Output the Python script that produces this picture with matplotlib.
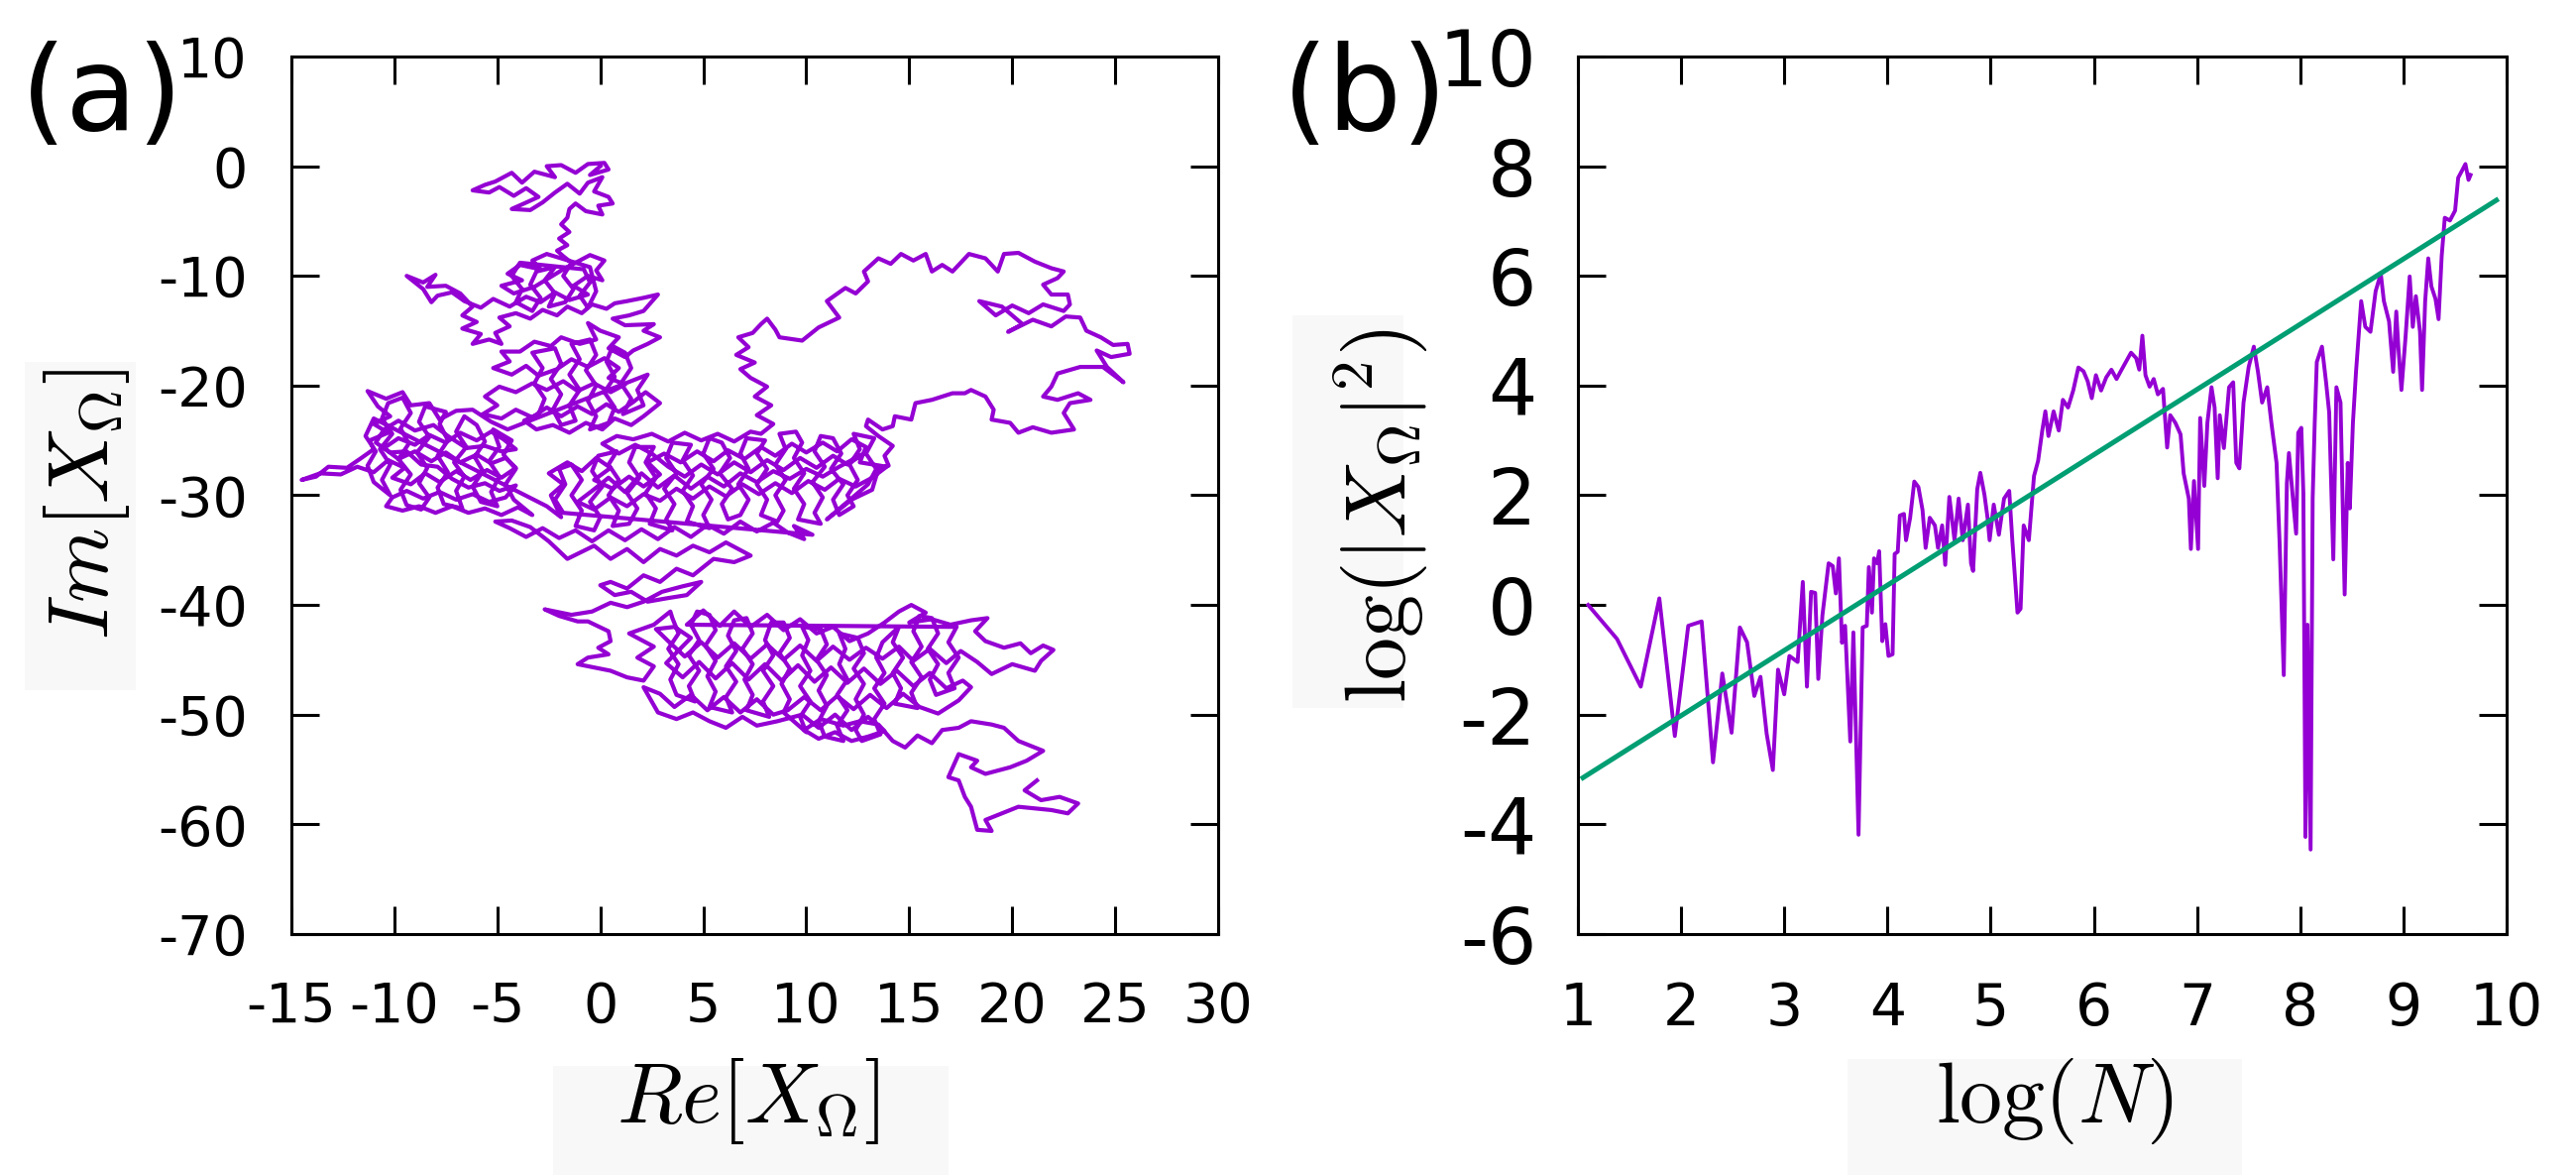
import matplotlib
matplotlib.use("Agg")
import matplotlib.pyplot as plt
from matplotlib.patches import Rectangle

plt.rcParams['mathtext.fontset'] = 'cm'
plt.rcParams['font.family'] = 'DejaVu Sans'
plt.rcParams['axes.unicode_minus'] = False

walk_top = [(0.0, 0.0), (-0.5, -0.8), (0.4, -0.3), (0.2, 0.3), (-0.6, 0.2), (-1.2, -0.6),
            (-1.9, 0.1), (-2.6, 0.0), (-2.2, -1.0), (-3.2, -0.5), (-3.8, -1.5), (-4.3, -0.6),
            (-5.1, -1.4), (-5.6, -1.7), (-6.2, -2.2), (-5.4, -2.4), (-4.9, -1.9), (-4.2, -2.7),
            (-3.6, -2.0), (-3.0, -2.8), (-3.7, -3.4), (-4.3, -3.9), (-3.4, -4.0), (-2.8, -3.3),
            (-2.2, -2.4), (-1.6, -1.6), (-1.0, -2.5), (-0.6, -1.5), (0.1, -1.0), (-0.3, -2.3),
            (0.4, -2.8), (0.6, -3.4), (-0.1, -3.6), (0.1, -4.4), (-0.7, -4.1), (-1.2, -3.4),
            (-1.5, -3.9), (-1.6, -4.7), (-1.9, -5.3), (-1.5, -6.0), (-2.0, -6.6), (-1.6, -7.2),
            (-2.1, -7.7), (-1.8, -8.2)]

fill_upper = [(-1.4, -8.8), (-1.8, -10.0), (-1.3, -11.2), (-1.7, -12.4), (-2.5, -12.8), (-2.2, -11.6),
              (-2.7, -10.4), (-2.2, -9.2), (-3.1, -9.6), (-3.4, -10.8), (-2.9, -12.0), (-3.3, -13.2),
              (-4.1, -12.4), (-3.8, -11.2), (-4.3, -10.0), (-3.9, -8.8), (-0.8, -9.4), (-0.5, -10.6),
              (-1.0, -11.8), (-0.6, -12.9), (-0.2, -11.4), (-0.5, -9.2)]

walk_upper = [(-2.6, -8.0), (-3.3, -8.6), (-2.9, -9.4), (-3.9, -9.0), (-4.5, -9.8), (-3.8, -10.4),
              (-4.8, -10.9), (-4.2, -11.6), (-3.2, -11.0), (-2.5, -10.2), (-1.8, -9.4), (-1.0, -8.6),
              (-0.5, -8.1), (0.2, -8.6), (-0.2, -9.5), (0.1, -10.4), (-0.6, -10.0), (-1.3, -10.9),
              (-0.6, -11.7), (-1.5, -12.2), (-2.2, -11.5), (-2.9, -12.4), (-3.6, -11.9), (-4.4, -12.8),
              (-5.2, -12.1), (-5.8, -12.9), (-6.6, -12.3), (-7.2, -11.5), (-7.9, -11.8), (-8.2, -12.4),
              (-8.6, -11.2), (-9.4, -10.0), (-8.6, -10.6), (-8.0, -9.9), (-8.4, -11.0), (-7.5, -10.9),
              (-6.8, -11.6), (-6.2, -12.8), (-6.7, -13.6), (-6.0, -14.2), (-6.7, -14.8), (-5.8, -15.3),
              (-6.2, -16.2), (-5.4, -15.8), (-4.8, -16.2), (-5.1, -15.2), (-4.4, -14.6), (-4.9, -13.8),
              (-4.1, -13.4), (-3.4, -13.9), (-2.8, -13.1), (-2.1, -13.6), (-1.6, -12.8), (-0.9, -13.4),
              (-0.4, -12.6), (0.3, -13.0), (0.7, -12.5), (1.3, -12.3), (2.1, -12.0), (2.8, -11.7),
              (2.1, -13.2), (1.4, -13.6), (0.6, -13.9), (1.2, -14.5), (2.6, -14.4), (2.1, -15.0),
              (2.9, -15.6), (2.3, -16.2), (1.6, -16.8), (1.2, -17.4), (0.4, -16.6), (0.9, -15.6),
              (0.0, -15.0), (-0.6, -14.3), (-0.2, -15.8)]

walk_mid = [(-1.0, -16.2), (-1.9, -15.6), (-2.4, -16.4), (-3.2, -16.0), (-3.9, -16.9), (-4.8, -16.9),
            (-4.4, -17.8), (-5.2, -18.4), (-4.3, -19.0), (-3.6, -18.2), (-3.0, -19.1), (-2.1, -18.5),
            (-1.4, -17.6), (-0.6, -18.3), (0.2, -17.5), (0.9, -18.4), (0.4, -19.3), (1.2, -19.9),
            (0.5, -20.6), (-0.3, -19.8), (-1.1, -20.5), (-1.8, -19.6), (-2.6, -20.4), (-3.3, -19.8),
            (-4.1, -20.6), (-4.9, -20.1), (-5.6, -21.0), (-5.0, -21.8), (-5.7, -22.6), (-4.8, -23.0),
            (-4.1, -22.2), (-3.3, -22.9), (-2.6, -22.0), (-1.9, -22.8), (-1.1, -21.9), (-0.4, -22.6),
            (0.3, -21.7), (0.9, -22.4), (1.6, -21.5), (2.2, -20.6), (2.9, -21.6), (2.1, -22.8),
            (1.5, -23.6), (0.7, -23.0), (0.1, -24.0), (-0.7, -23.4), (-1.5, -24.3), (-2.3, -23.6),
            (-3.1, -24.0), (-3.7, -23.2)]

fill_mid = [(-3.0, -22.6), (-2.7, -21.2), (-3.2, -19.8), (-2.8, -18.4), (-3.3, -17.0), (-2.2, -16.6),
            (-1.9, -18.0), (-2.4, -19.4), (-1.9, -20.8), (-2.3, -22.2), (-1.9, -23.6), (-1.2, -23.2),
            (-1.5, -21.8), (-1.0, -20.4), (-1.5, -19.0), (-1.0, -17.6), (-1.4, -16.2), (-0.5, -15.8),
            (-0.2, -17.2), (-0.7, -18.6), (-0.2, -20.0), (-0.6, -21.4), (-0.2, -22.8), (-0.5, -24.0),
            (0.4, -23.4), (0.7, -22.0), (0.2, -20.6), (0.7, -19.2), (0.3, -17.8), (0.6, -16.4),
            (1.2, -17.0), (1.5, -18.4), (1.0, -19.8), (1.5, -21.2), (1.1, -22.6), (2.1, -21.8),
            (1.8, -20.4), (2.3, -19.0)]

walk_left = [(-4.5, -24.0), (-5.3, -23.3), (-6.2, -22.2), (-7.0, -22.3), (-7.8, -23.1), (-8.3, -21.6),
             (-9.2, -21.8), (-9.6, -20.6), (-10.4, -21.2), (-11.3, -20.5), (-10.8, -21.9), (-10.2, -22.8),
             (-11.0, -23.5), (-10.3, -24.3), (-11.2, -25.0), (-11.0, -25.8), (-11.6, -26.6), (-12.3, -27.5),
             (-13.2, -27.4), (-13.8, -28.3), (-14.5, -28.6), (-13.6, -28.0), (-12.6, -28.1), (-11.8, -27.4),
             (-11.0, -27.9), (-10.3, -26.8), (-9.5, -27.5), (-10.1, -28.4), (-9.2, -29.0), (-8.5, -28.0),
             (-7.8, -28.8), (-7.0, -27.8), (-6.3, -28.6), (-5.5, -27.7), (-4.8, -28.4), (-4.1, -27.5),
             (-4.6, -26.6), (-5.3, -27.1), (-6.0, -26.3), (-6.8, -27.0), (-7.5, -26.1), (-8.2, -26.9),
             (-9.0, -26.0), (-9.8, -26.7), (-10.5, -25.7), (-9.8, -24.8), (-9.0, -25.4), (-8.3, -24.5),
             (-7.5, -25.2), (-6.8, -24.3), (-6.0, -25.0), (-5.3, -24.2), (-4.7, -24.9), (-4.1, -25.8),
             (-4.8, -26.0), (-5.6, -25.5), (-6.5, -25.7), (-7.4, -24.6), (-8.1, -23.6), (-9.0, -24.1),
             (-9.8, -23.2), (-10.5, -24.0), (-10.9, -25.2), (-10.2, -26.1), (-9.4, -26.0), (-8.7, -27.2),
             (-7.9, -27.4), (-7.2, -28.5), (-6.4, -29.3), (-5.6, -28.9), (-4.9, -29.6), (-4.1, -29.1),
             (-4.6, -30.2), (-5.4, -30.6), (-6.2, -29.9), (-7.0, -30.4), (-7.8, -29.7), (-8.6, -30.3),
             (-9.4, -29.6), (-10.1, -30.2), (-10.4, -31.0), (-9.6, -31.4), (-8.8, -31.0), (-8.0, -31.6),
             (-7.2, -31.0), (-6.4, -31.6), (-5.6, -31.2), (-4.8, -31.8), (-4.0, -31.1), (-3.3, -31.8)]

fill_left = [(-4.2, -30.4), (-4.6, -29.0), (-4.1, -27.6), (-4.7, -26.3), (-4.3, -25.0), (-5.2, -24.0),
             (-4.9, -25.6), (-5.4, -26.9), (-4.9, -28.3), (-5.3, -29.7), (-5.0, -31.0), (-5.8, -30.6),
             (-6.2, -29.2), (-5.7, -27.8), (-6.1, -26.5), (-5.6, -25.1), (-6.0, -23.6), (-6.6, -22.8),
             (-7.0, -24.2), (-6.5, -25.6), (-7.1, -27.0), (-6.6, -28.3), (-7.0, -29.6), (-6.7, -31.2),
             (-7.6, -30.8), (-7.9, -29.3), (-7.4, -27.9), (-7.9, -26.4), (-7.4, -25.0), (-7.8, -23.5),
             (-7.5, -22.4), (-8.5, -21.9), (-8.8, -23.3), (-8.3, -24.7), (-8.9, -26.1), (-8.4, -27.5),
             (-8.8, -28.9), (-8.3, -30.2), (-8.7, -31.3), (-9.4, -30.9), (-9.7, -29.5), (-9.2, -28.1),
             (-9.8, -26.7), (-9.3, -25.3), (-9.7, -23.9), (-9.2, -22.5), (-9.6, -21.1), (-10.3, -21.6),
             (-10.6, -23.0), (-10.1, -24.4), (-10.7, -25.8), (-10.2, -27.2), (-10.6, -28.6), (-10.2, -30.0),
             (-11.0, -28.8), (-11.3, -27.3), (-10.9, -26.0), (-11.4, -24.6), (-11.0, -23.0)]

walk_band = [(-2.6, -31.0), (-1.9, -32.0), (-2.4, -30.0), (-1.8, -29.0), (-2.5, -28.0), (-1.6, -27.0),
             (-0.9, -27.8), (-0.2, -26.6), (0.5, -27.5), (-0.3, -28.6), (0.6, -29.4), (1.4, -28.3),
             (2.1, -29.2), (2.9, -28.1), (2.3, -27.0), (3.1, -26.2), (3.9, -27.0), (4.7, -26.0),
             (5.5, -26.9), (6.2, -25.9), (7.0, -26.7), (7.8, -25.6), (8.5, -26.4), (9.3, -25.3),
             (10.0, -26.1), (10.8, -25.2), (11.5, -26.0), (12.2, -24.9), (12.9, -25.6), (12.6, -27.0),
             (13.9, -27.4), (13.2, -28.4), (12.4, -29.2), (11.6, -28.5), (10.9, -29.5), (10.1, -28.7),
             (9.3, -29.8), (8.5, -28.9), (7.7, -29.9), (6.9, -29.0), (6.1, -30.1), (5.3, -29.2),
             (4.5, -30.3), (3.7, -29.4), (2.9, -30.5), (2.1, -29.9), (1.3, -31.0), (0.5, -30.2),
             (-0.3, -31.3), (-1.1, -30.6), (-0.4, -29.6), (0.4, -28.4), (1.2, -29.7), (2.0, -28.0),
             (2.8, -29.3), (3.6, -28.2), (4.4, -29.4), (5.2, -28.3), (6.0, -29.2), (6.8, -28.0),
             (7.6, -28.8), (8.4, -27.8), (9.2, -28.5), (10.0, -27.6), (10.8, -28.3), (11.6, -27.4),
             (12.8, -26.2), (12.0, -27.2), (11.3, -26.4), (10.5, -27.5), (9.7, -26.6), (8.9, -27.7),
             (8.1, -26.8), (7.3, -27.9), (6.5, -27.0), (5.7, -28.1), (4.9, -27.2), (4.1, -28.3),
             (3.3, -27.4), (2.5, -26.2), (1.7, -25.4), (0.9, -26.2), (0.1, -25.3), (0.8, -24.6),
             (1.6, -24.9), (2.5, -24.4), (3.3, -25.1), (4.1, -24.3), (4.9, -25.0), (5.7, -24.4),
             (6.5, -25.1), (7.3, -24.2), (7.8, -24.4)]

walk_loop = [(8.4, -23.5), (7.6, -22.7), (8.3, -21.8), (7.5, -21.0), (8.1, -20.1), (7.3, -19.3),
             (6.8, -18.5), (7.5, -17.9), (6.6, -17.2), (7.2, -16.5), (6.7, -15.6), (7.4, -15.2),
             (7.8, -14.4), (8.1, -13.9), (8.5, -14.9), (8.7, -15.6), (9.8, -15.9), (10.6, -14.7),
             (11.6, -13.8), (11.0, -12.3), (11.9, -11.1), (12.4, -11.6), (13.0, -10.5), (12.8, -9.6),
             (13.5, -8.4), (14.1, -8.9), (14.6, -8.0), (15.2, -8.6), (15.8, -8.0), (16.1, -9.6),
             (16.6, -9.0), (17.1, -9.6), (17.9, -8.0), (18.7, -8.4), (19.3, -9.6), (19.6, -8.0),
             (20.3, -7.9), (21.1, -8.7), (21.9, -9.3), (22.5, -9.6), (22.2, -10.2), (21.5, -10.8),
             (21.9, -11.7), (22.7, -11.7), (22.8, -12.6), (22.5, -13.2), (21.5, -12.6), (20.8, -13.4),
             (20.0, -12.7), (19.2, -13.6), (18.4, -12.3), (19.5, -12.8), (20.5, -14.4), (19.8, -15.1),
             (21.0, -14.0), (21.9, -14.6), (22.6, -13.7), (23.3, -13.8), (23.6, -15.0), (24.3, -15.6),
             (24.9, -16.3), (25.6, -16.2), (25.7, -17.1), (24.8, -17.4), (24.1, -16.8), (24.6, -18.3),
             (25.4, -19.7), (24.4, -18.3), (23.3, -18.3), (22.2, -18.9), (21.9, -20.1), (21.5, -21.0),
             (22.2, -21.3), (23.2, -20.7), (23.8, -21.3), (22.8, -21.6), (22.5, -22.5), (22.8, -23.4),
             (23.0, -24.0), (21.9, -24.3), (21.0, -23.8), (20.3, -24.3), (19.9, -23.4), (19.0, -23.1),
             (19.1, -22.2), (18.7, -21.0), (18.0, -20.4), (17.7, -20.7), (17.1, -20.7), (16.1, -21.3),
             (15.3, -21.6), (15.1, -23.1), (14.3, -22.8), (14.2, -23.7), (13.7, -24.0), (13.0, -23.1),
             (12.9, -23.7), (13.5, -24.6), (14.2, -25.5), (13.8, -26.4), (14.0, -27.3), (13.5, -27.6),
             (13.2, -29.5), (12.2, -30.4), (11.0, -32.2)]

fill_band = [(13.0, -29.0), (13.4, -27.6), (12.9, -26.2), (13.3, -24.8), (12.3, -24.4), (12.6, -25.8),
             (12.1, -27.2), (12.5, -28.6), (12.0, -30.0), (12.3, -31.0), (11.6, -31.8), (11.3, -30.4),
             (11.8, -29.0), (11.2, -27.6), (11.7, -26.2), (11.3, -24.8), (10.7, -24.6), (10.4, -26.0),
             (10.9, -27.4), (10.3, -28.8), (10.8, -30.2), (10.4, -31.6), (10.7, -32.6), (9.6, -32.2),
             (9.9, -30.8), (9.4, -29.4), (9.9, -28.0), (9.4, -26.6), (9.8, -25.2), (9.5, -24.2),
             (8.7, -24.4), (9.0, -25.8), (8.5, -27.2), (9.0, -28.6), (8.5, -30.0), (8.9, -31.4),
             (8.6, -32.4), (7.8, -31.8), (8.1, -30.4), (7.6, -29.0), (8.1, -27.6), (7.6, -26.2),
             (8.0, -25.0), (7.1, -24.8), (6.8, -26.2), (7.2, -27.6), (6.7, -29.0), (7.2, -30.4),
             (6.8, -31.8), (6.2, -32.2), (5.9, -30.8), (6.4, -29.4), (5.8, -28.0), (6.3, -26.6),
             (5.9, -25.2), (5.3, -24.8), (5.0, -26.2), (5.5, -27.6), (4.9, -29.0), (5.4, -30.4),
             (5.0, -31.8), (5.3, -33.0), (4.2, -32.4), (4.5, -31.0), (4.0, -29.6), (4.5, -28.2),
             (4.0, -26.8), (4.4, -25.4), (3.5, -25.2), (3.2, -26.6), (3.7, -28.0), (3.1, -29.4),
             (3.6, -30.8), (3.2, -32.2), (3.5, -33.2), (2.4, -32.6), (2.7, -31.2), (2.2, -29.8),
             (2.7, -28.4), (2.2, -27.0), (2.6, -25.6), (1.7, -25.6), (1.4, -27.0), (1.9, -28.4),
             (1.3, -29.8), (1.8, -31.2), (1.4, -32.6), (0.6, -32.8), (0.9, -31.4), (0.4, -30.0),
             (0.9, -28.6), (0.4, -27.2), (0.8, -26.0), (-0.1, -26.4), (-0.4, -27.8), (0.1, -29.2),
             (-0.5, -30.6), (0.0, -32.0), (-0.3, -33.2), (-1.2, -32.8), (-0.9, -31.4), (-1.4, -30.0),
             (-0.9, -28.6), (-1.4, -27.2), (-2.0, -27.6), (-1.7, -29.0), (-2.2, -30.4), (-1.8, -31.6)]

walk_down = [(10.3, -33.6), (9.4, -32.8), (9.9, -34.0), (9.1, -33.4), (8.4, -32.5), (7.6, -33.3),
             (6.8, -32.4), (6.0, -33.5), (5.2, -32.7), (4.4, -33.8), (3.6, -32.9), (2.8, -34.0),
             (2.0, -33.1), (1.2, -34.1), (0.4, -33.2), (-0.4, -34.2), (-1.2, -33.2), (-2.0, -33.9),
             (-2.8, -33.0), (-3.6, -33.8), (-4.4, -33.0), (-5.1, -32.4), (-4.3, -32.3), (-3.4, -32.9),
             (-2.5, -34.2), (-1.6, -35.8), (-0.3, -34.6), (0.5, -35.8), (1.3, -34.9), (2.1, -36.1),
             (2.9, -34.9), (3.7, -35.5), (4.5, -34.6), (5.3, -35.2), (6.1, -34.3), (7.3, -35.5),
             (6.5, -36.1), (5.5, -35.8), (4.5, -37.3), (3.7, -36.7), (2.9, -37.9), (2.1, -37.3),
             (1.3, -38.5), (0.5, -37.9), (0.0, -38.2), (0.7, -39.1), (1.5, -38.8), (2.3, -39.7),
             (3.2, -39.4), (4.2, -39.1), (4.9, -37.9), (4.0, -38.3), (3.0, -38.8), (2.1, -39.7),
             (1.3, -40.2), (0.5, -39.8), (-0.4, -40.6), (-1.4, -40.9), (-2.7, -40.4), (-2.0, -41.0),
             (-1.1, -41.5), (-0.6, -41.5), (0.4, -42.4), (0.5, -43.3), (-0.1, -43.9), (0.4, -44.5),
             (-0.6, -44.8), (-1.1, -45.4), (-0.3, -45.7), (0.5, -46.0), (1.3, -46.6), (2.1, -46.9),
             (2.6, -45.6), (1.8, -44.8), (2.6, -43.8), (1.4, -42.6), (2.6, -41.8), (3.4, -40.6)]

fill_low = [(3.5, -41.2), (3.8, -42.6), (3.3, -44.0), (3.8, -45.4), (3.4, -46.8), (3.7, -48.2),
            (4.6, -48.8), (4.3, -47.4), (4.8, -46.0), (4.3, -44.6), (4.8, -43.2), (4.4, -41.8),
            (4.7, -40.6), (5.3, -40.9), (5.6, -42.3), (5.1, -43.7), (5.6, -45.1), (5.2, -46.5),
            (5.6, -47.9), (5.3, -49.3), (6.4, -49.8), (6.1, -48.4), (6.6, -47.0), (6.1, -45.6),
            (6.6, -44.2), (6.2, -42.8), (6.5, -41.4), (7.1, -41.2), (7.4, -42.6), (6.9, -44.0),
            (7.4, -45.4), (7.0, -46.8), (7.4, -48.2), (7.1, -49.6), (8.2, -50.2), (7.9, -48.8),
            (8.4, -47.4), (7.9, -46.0), (8.4, -44.6), (8.0, -43.2), (8.3, -41.6), (8.9, -41.6),
            (9.2, -43.0), (8.7, -44.4), (9.2, -45.8), (8.8, -47.2), (9.2, -48.6), (8.9, -49.8),
            (10.0, -51.6), (9.7, -50.2), (10.2, -48.8), (9.7, -47.4), (10.2, -46.0), (9.8, -44.6),
            (10.1, -43.2), (9.8, -42.0), (10.7, -42.2), (11.0, -43.6), (10.5, -45.0), (11.0, -46.4),
            (10.6, -47.8), (11.0, -49.2), (10.6, -50.6), (10.9, -52.0), (11.8, -52.4), (11.5, -51.0),
            (12.0, -49.6), (11.5, -48.2), (12.0, -46.8), (11.6, -45.4), (11.9, -44.0), (11.6, -42.6),
            (12.5, -43.0), (12.8, -44.4), (12.3, -45.8), (12.8, -47.2), (12.4, -48.6), (12.8, -50.0),
            (12.4, -51.4), (12.7, -52.4), (13.6, -51.8), (13.3, -50.4), (13.8, -49.0), (13.3, -47.6),
            (13.8, -46.2), (13.4, -44.8), (13.7, -43.4), (14.5, -42.0), (14.2, -43.4), (14.7, -44.8),
            (14.2, -46.2), (14.6, -47.6), (14.3, -49.0), (15.4, -49.4), (15.1, -48.0), (15.6, -46.6),
            (15.1, -45.2), (15.6, -43.8), (15.2, -42.4), (15.5, -41.0), (16.1, -41.2), (16.4, -42.6),
            (15.9, -44.0), (16.4, -45.4), (16.0, -46.8), (16.3, -48.2), (17.2, -47.6), (16.9, -46.2),
            (17.4, -44.8), (16.9, -43.4), (17.3, -42.0)]

walk_low = [(4.2, -41.8), (5.0, -40.5), (5.8, -41.9), (6.5, -40.6), (7.3, -42.0), (8.1, -40.9),
            (8.9, -42.3), (9.7, -41.3), (10.5, -42.6), (11.3, -42.0), (12.1, -43.3), (13.0, -42.6),
            (13.8, -41.6), (14.5, -40.6), (15.1, -40.0), (15.8, -40.7), (15.0, -41.6), (16.1, -41.3),
            (17.0, -41.8), (18.0, -41.4), (18.8, -41.2), (18.2, -42.4), (18.7, -43.3), (19.6, -43.9),
            (20.4, -43.5), (20.9, -44.4), (21.5, -43.7), (22.0, -44.1), (21.4, -45.1), (21.1, -46.0),
            (20.0, -45.4), (19.0, -46.3), (18.3, -45.2), (17.5, -44.2), (16.8, -45.3), (16.0, -44.0),
            (15.2, -45.1), (14.5, -43.8), (13.7, -44.9), (12.9, -43.9), (12.1, -45.0), (11.3, -43.8),
            (10.5, -45.1), (9.7, -43.7), (8.9, -45.0), (8.1, -43.6), (7.3, -44.9), (6.5, -43.5),
            (5.7, -44.8), (4.9, -43.4), (4.1, -44.7), (3.3, -43.3), (2.7, -42.2), (3.6, -42.0),
            (4.4, -43.0), (3.2, -45.3), (4.0, -46.6), (4.8, -45.2), (5.6, -46.7), (6.4, -45.3),
            (7.2, -46.8), (8.0, -45.4), (8.8, -46.9), (9.6, -45.5), (10.4, -47.0), (11.2, -45.7),
            (12.0, -47.1), (12.8, -45.8), (13.6, -47.2), (14.4, -46.0), (15.2, -47.4), (16.0, -46.2),
            (16.8, -47.6), (17.6, -46.9), (18.0, -47.5), (17.4, -48.7), (16.4, -49.9), (15.5, -49.3),
            (14.7, -48.1), (13.9, -49.4), (13.1, -48.2), (12.3, -49.5), (11.5, -48.3), (10.7, -49.6),
            (9.9, -48.4), (9.1, -49.6), (8.4, -50.0), (7.6, -48.6), (6.8, -49.8), (6.0, -48.4),
            (5.2, -49.6), (4.4, -48.2), (3.6, -49.3), (2.9, -48.1), (2.1, -47.5), (2.8, -49.8),
            (3.7, -50.4), (4.5, -49.8), (5.3, -50.6), (6.1, -51.2), (6.9, -50.2), (7.6, -51.0),
            (8.6, -50.6), (9.8, -50.0), (10.6, -51.2), (11.4, -50.0), (12.2, -51.4), (13.0, -50.2),
            (13.8, -51.5), (13.0, -52.0), (12.2, -52.4), (11.4, -51.6), (10.6, -52.2), (9.9, -51.4),
            (10.7, -50.4), (11.8, -51.0), (12.6, -50.6), (13.5, -50.9), (14.2, -52.4), (14.8, -53.0),
            (15.4, -51.9), (16.1, -52.6), (16.6, -51.4), (17.4, -51.2)]

walk_tail = [(18.0, -50.6), (19.0, -50.9), (19.6, -51.2), (20.3, -52.4), (21.5, -53.3), (20.7, -54.2),
             (19.9, -54.8), (18.7, -55.4), (18.0, -54.8), (18.3, -54.2), (17.4, -53.6), (16.9, -55.7),
             (17.4, -56.0), (17.7, -57.5), (18.0, -58.4), (18.3, -60.5), (19.0, -60.6), (18.7, -59.6),
             (19.5, -59.0), (20.3, -58.4), (21.9, -58.7), (22.7, -59.0), (23.2, -58.1), (22.3, -57.5),
             (21.4, -57.8), (20.6, -56.9), (21.2, -56.0)]

# (b) log|X_Omega|^2 against log N, and the fitted line
log_n = [1.10, 1.38, 1.61, 1.79, 1.94, 2.07, 2.20, 2.31, 2.40, 2.49, 2.57, 2.64, 2.71, 2.77,
         2.83, 2.89, 2.94, 3.00, 3.05, 3.13, 3.18, 3.22, 3.26, 3.30, 3.33, 3.37, 3.43, 3.47,
         3.50, 3.53, 3.56, 3.59, 3.64, 3.67, 3.72, 3.76, 3.80, 3.82, 3.85, 3.87, 3.90, 3.92,
         3.95, 3.98, 4.01, 4.05, 4.07, 4.10, 4.12, 4.16, 4.18, 4.22, 4.26, 4.30, 4.34, 4.37,
         4.41, 4.46, 4.49, 4.53, 4.56, 4.60, 4.65, 4.69, 4.73, 4.78, 4.81, 4.83, 4.87, 4.90,
         4.94, 4.97, 4.99, 5.03, 5.08, 5.13, 5.18, 5.21, 5.26, 5.29, 5.32, 5.37, 5.42, 5.46,
         5.50, 5.53, 5.56, 5.61, 5.66, 5.70, 5.75, 5.80, 5.85, 5.90, 5.94, 5.98, 6.02, 6.07,
         6.12, 6.17, 6.22, 6.26, 6.31, 6.36, 6.41, 6.44, 6.47, 6.50, 6.54, 6.58, 6.62, 6.67,
         6.71, 6.74, 6.79, 6.84, 6.87, 6.92, 6.94, 6.97, 7.01, 7.03, 7.07, 7.10, 7.14, 7.17,
         7.20, 7.22, 7.26, 7.31, 7.35, 7.38, 7.41, 7.45, 7.50, 7.55, 7.59, 7.63, 7.68, 7.72,
         7.77, 7.80, 7.82, 7.84, 7.87, 7.89, 7.92, 7.96, 7.98, 8.01, 8.03, 8.05, 8.07, 8.10,
         8.12, 8.14, 8.16, 8.21, 8.25, 8.28, 8.32, 8.35, 8.39, 8.43, 8.46, 8.48, 8.51, 8.54,
         8.59, 8.63, 8.68, 8.73, 8.78, 8.81, 8.86, 8.90, 8.93, 8.95, 8.98, 9.02, 9.06, 9.09,
         9.12, 9.16, 9.18, 9.21, 9.24, 9.27, 9.31, 9.34, 9.37, 9.40, 9.45, 9.50, 9.53, 9.57,
         9.60, 9.63, 9.65]
log_x2 = [0.00, -0.62, -1.49, 0.12, -2.39, -0.38, -0.30, -2.87, -1.25, -2.33, -0.41, -0.68, -1.66, -1.31,
          -2.35, -3.01, -1.18, -1.63, -0.93, -1.04, 0.42, -1.49, 0.24, 0.22, -1.35, -0.19, 0.76, 0.71,
          0.21, 0.85, -0.69, -0.38, -2.49, -0.50, -4.19, -0.41, -0.38, 0.69, -0.14, 0.85, 0.76, 0.98,
          -0.66, -0.35, -0.93, -0.90, 0.93, 0.97, 1.63, 1.66, 1.18, 1.59, 2.25, 2.15, 1.73, 1.04,
          1.59, 1.45, 1.04, 1.45, 0.73, 1.97, 1.18, 1.94, 1.18, 1.83, 0.76, 0.62, 2.11, 2.41,
          2.01, 1.59, 1.18, 1.83, 1.28, 1.94, 2.08, 1.18, -0.14, -0.07, 1.45, 1.18, 2.35, 2.63,
          3.18, 3.53, 3.08, 3.53, 3.18, 3.74, 3.60, 3.91, 4.33, 4.26, 4.08, 3.77, 4.19, 3.91,
          4.15, 4.29, 4.12, 4.26, 4.43, 4.60, 4.50, 4.29, 4.91, 4.19, 3.98, 4.12, 3.84, 3.94,
          2.87, 3.46, 3.32, 3.11, 2.40, 1.94, 1.02, 2.26, 1.02, 3.41, 2.17, 3.32, 3.97, 3.60,
          2.31, 3.46, 2.86, 3.97, 4.06, 2.59, 2.49, 3.69, 4.34, 4.71, 4.25, 3.69, 3.97, 3.32,
          2.59, 1.11, -0.09, -1.28, 2.22, 2.77, 2.12, 1.30, 3.14, 3.23, 2.03, -4.23, -0.36, -4.46,
          1.94, 3.32, 4.43, 4.71, 4.06, 3.51, 0.83, 3.97, 3.69, 0.19, 2.59, 1.76, 3.32, 4.25,
          5.54, 5.07, 4.98, 5.72, 6.04, 5.54, 5.17, 4.25, 5.35, 4.71, 3.92, 4.89, 5.99, 5.07,
          5.63, 4.98, 3.92, 5.54, 6.32, 5.81, 5.58, 5.21, 6.36, 7.06, 7.01, 7.19, 7.79, 7.93,
          8.04, 7.75, 7.84]
fit_n = [1.05, 9.9]
fit_x2 = [-3.15, 7.38]

purple = '#9400d3'
green = '#009e73'

segments = [walk_top, fill_upper, walk_upper, walk_mid, fill_mid, walk_left, fill_left, walk_band,
            walk_loop, fill_band, walk_down, fill_low, walk_low, walk_tail]
re_vals = [p[0] for seg in segments for p in seg]
im_vals = [p[1] for seg in segments for p in seg]

fig = plt.figure(figsize=(25.99, 11.85), dpi=100)

# faint backgrounds behind the axis titles (pasted images in the original)
for x0, y0, w, h in [(0.2147, 0.0, 0.1535, 0.0928), (0.7172, 0.0, 0.1531, 0.0987),
                     (0.0096, 0.4127, 0.0431, 0.2793), (0.5017, 0.3975, 0.0431, 0.334)]:
    fig.patches.append(Rectangle((x0, y0), w, h, transform=fig.transFigure,
                                 facecolor='#f8f8f8', edgecolor='none', zorder=0))

ax1 = fig.add_axes([0.1131, 0.2051, 0.3598, 0.7468])
ax2 = fig.add_axes([0.6125, 0.2051, 0.3606, 0.7468])

ax1.plot(re_vals, im_vals, color=purple, lw=3.0)
ax1.set_xlim(-15, 30)
ax1.set_ylim(-70, 10)
ax1.set_xticks(range(-15, 31, 5))
ax1.set_yticks(range(-70, 11, 10))

ax2.plot(log_n, log_x2, color=purple, lw=2.8)
ax2.plot(fit_n, fit_x2, color=green, lw=3.6)
ax2.set_xlim(1, 10)
ax2.set_ylim(-6, 10)
ax2.set_xticks(range(1, 11))
ax2.set_yticks(range(-6, 11, 2))

for ax in (ax1, ax2):
    for s in ax.spines.values():
        s.set_linewidth(2.2)
    ax.tick_params(direction='in', top=True, right=True, length=20, width=2.2)

ax1.tick_params(axis='x', labelsize=40, pad=34)
ax1.tick_params(axis='y', labelsize=40, pad=32)
ax2.tick_params(axis='x', labelsize=42, pad=34)
ax2.tick_params(axis='y', labelsize=56, pad=30)

fig.text(0.008, 0.917, '(a)', fontsize=85, ha='left', va='center')
fig.text(0.498, 0.917, '(b)', fontsize=85, ha='left', va='center')

fig.text(0.2905, 0.063, r'$Re[X_{\Omega}]$', fontsize=62, ha='center', va='center')
fig.text(0.7977, 0.063, r'$\log(N)$', fontsize=62, ha='center', va='center')
fig.text(0.0335, 0.571, r'$Im[X_{\Omega}]$', fontsize=62, ha='center', va='center', rotation=90)
fig.text(0.536, 0.561, r'$\log(|X_{\Omega}|^2)$', fontsize=62, ha='center', va='center', rotation=90)

fig.savefig('out.png', dpi=100)
